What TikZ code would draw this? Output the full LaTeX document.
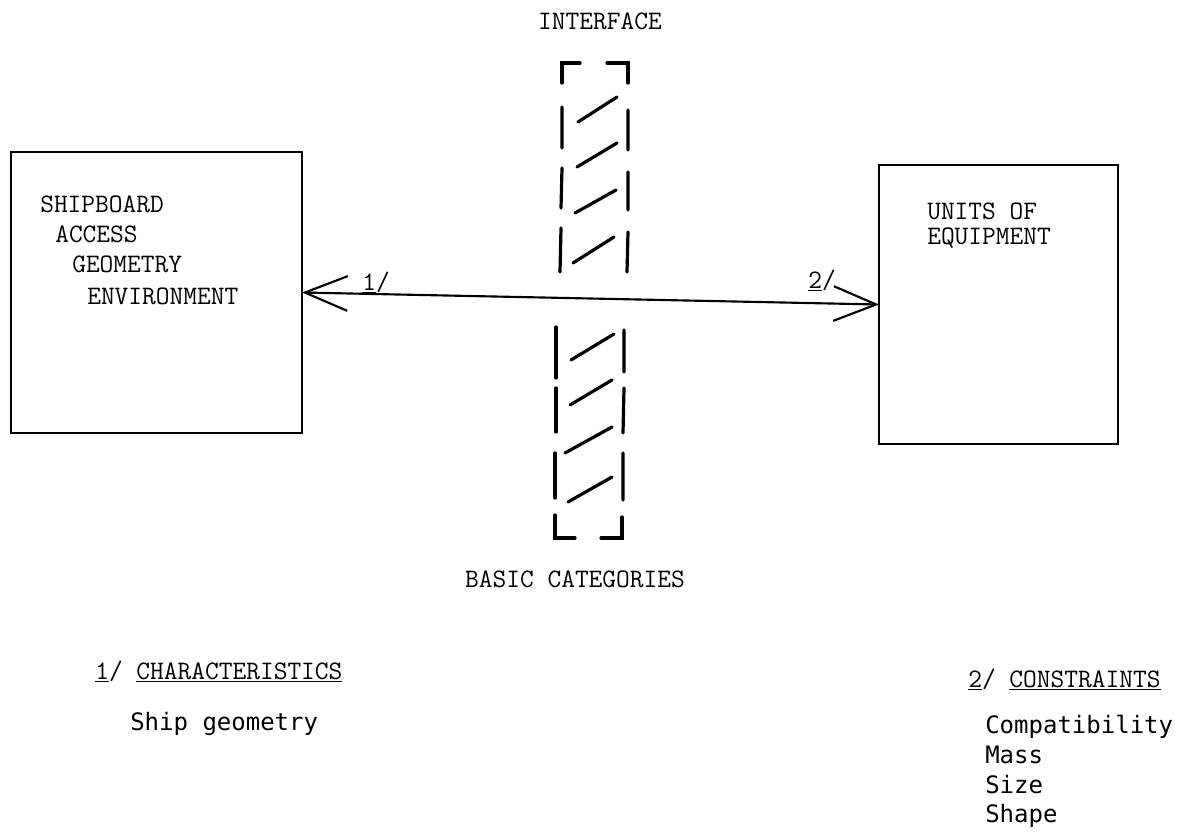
\documentclass[tikz,border=0pt]{standalone}
\usepackage{fontspec}
\newfontfamily\gothic{DejaVu Sans Mono}
\usetikzlibrary{arrows.meta}

\begin{document}
\begin{tikzpicture}[x=0.75pt,y=-0.75pt,
  box/.style={draw,line width=1.8pt,outer sep=0pt,inner sep=0pt,anchor=north west},
  lbl/.style={anchor=base west,inner sep=0pt,font=\fontsize{20}{24}\selectfont\ttfamily},
  lst/.style={anchor=base west,inner sep=0pt,font=\fontsize{18}{22}\selectfont\gothic},
  wall/.style={line width=2.4pt,line cap=round},
  link/.style={line width=1.6pt,{Straight Barb[length=32pt,width=26pt]}-{Straight Barb[length=32pt,width=26pt]}}]
\useasboundingbox (0,0) rectangle (1181,832);
\node[lbl,anchor=base] (iface) at (600,29) {INTERFACE};
\node[box,minimum width=218.25pt,minimum height=210.75pt] (ship) at (11,152) {};
\node[box,minimum width=179.25pt,minimum height=209.25pt] (unit) at (879,165) {};
\node[lbl] (s1) at (40,212) {SHIPBOARD};
\node[lbl] (s2) at (55,242) {ACCESS};
\node[lbl] (s3) at (72,272) {GEOMETRY};
\node[lbl] (s4) at (87,304) {ENVIRONMENT};
\node[lbl] (u1) at (927,219) {UNITS OF};
\node[lbl] (u2) at (927,244) {EQUIPMENT};
\draw[link] (ship.east) -- (unit.west);
\node[lbl] (n1) at (362,290) {\underline{1}/};
\node[lbl] (n2) at (808,288) {\underline{2}/};
% interface wall, upper half
\draw[wall] (580,63) -- (562,63) -- (562,83);
\draw[wall] (607,63) -- (628,63) -- (628,83);
\draw[wall] (562,107) -- (562,148) (562,168) -- (561,208) (561,228) -- (560,272);
\draw[wall] (628,110) -- (628,150) (628,172) -- (628,210) (628,232) -- (627,272);
\draw[wall] (578,122) -- (617,97) (577,167) -- (617,143) (575,213) -- (616,190) (573,263) -- (614,237);
% interface wall, lower half
\draw[wall] (556,327) -- (556,378) (556,388) -- (556,432) (555,453) -- (555,498);
\draw[wall] (624,330) -- (624,372) (624,388) -- (623,433) (623,453) -- (623,500);
\draw[wall] (555,515) -- (555,538) -- (575,538);
\draw[wall] (601,538) -- (622,538) -- (622,517);
\draw[wall] (571,360) -- (614,334) (570,405) -- (612,380) (565,453) -- (612,427) (568,502) -- (612,477);
\node[lbl,anchor=base] (cat) at (575,587) {BASIC CATEGORIES};
% footnotes
\node[lbl] (c0) at (95,679) {\underline{1}/ \underline{CHARACTERISTICS}};
\node[lst] (c1) at (130,730) {Ship geometry};
\node[lbl] (k0) at (968,687) {\underline{2}/ \underline{CONSTRAINTS}};
\node[lst] (k1) at (985,733) {Compatibility};
\node[lst] (k2) at (985,763) {Mass};
\node[lst] (k3) at (985,793) {Size};
\node[lst] (k4) at (985,822) {Shape};
\end{tikzpicture}
\end{document}
